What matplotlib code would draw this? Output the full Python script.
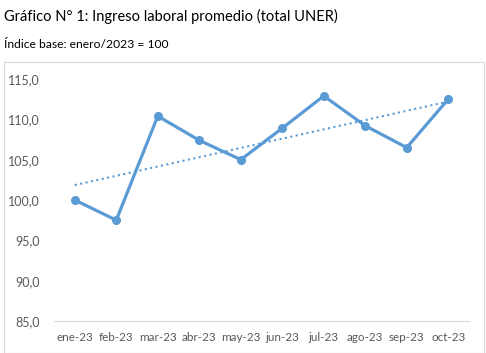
import numpy as np
import matplotlib.pyplot as plt
from matplotlib.patches import Rectangle

plt.rcParams['font.family'] = ['Lato', 'DejaVu Sans']

meses = ['ene-23', 'feb-23', 'mar-23', 'abr-23', 'may-23', 'jun-23',
         'jul-23', 'ago-23', 'sep-23', 'oct-23']
indice = [100.0, 97.5, 110.4, 107.4, 105.0, 108.9, 112.9, 109.2, 106.5, 112.5]
yticks = [85, 90, 95, 100, 105, 110, 115]

color = '#5B9BD5'
gris = '#595959'

fig = plt.figure(figsize=(4.86, 3.53), dpi=100)
ax = fig.add_axes([54/486, 1-321/353, (469-54)/486, (321-79)/353])

x = np.arange(len(meses))
ax.plot(x, indice, '-o', color=color, lw=2.3, ms=5.5, zorder=3)

# linea de tendencia lineal
m, b = np.polyfit(x, indice, 1)
ax.plot(x, m*x + b, ':', color=color, lw=1.5, zorder=2)

ax.set_xlim(-0.5, len(meses) - 0.5)
ax.set_ylim(85, 115)
ax.set_xticks(x)
ax.set_xticklabels(meses)
ax.set_yticks(yticks)
ax.set_yticklabels([f'{v:.1f}'.replace('.', ',') for v in yticks])
ax.tick_params(colors=gris, length=0)
ax.tick_params(axis='x', labelsize=8.4, pad=8)
ax.tick_params(axis='y', labelsize=9, pad=10)
for s in ['top', 'right', 'left']:
    ax.spines[s].set_visible(False)
ax.spines['bottom'].set_color('#D9D9D9')

fig.patches.append(Rectangle((4/486, 0), 480/486, 1-62/353, transform=fig.transFigure,
                             fill=False, edgecolor='#D9D9D9', lw=0.8))

fig.text(4/486, 1-16/353, 'Gráfico N° 1: Ingreso laboral promedio (total UNER)',
         fontsize=10.5, va='center', ha='left', color='black')
fig.text(4/486, 1-45/353, 'Índice base: enero/2023 = 100',
         fontsize=8.7, va='center', ha='left', color='black')

fig.savefig('out.png', dpi=100)
